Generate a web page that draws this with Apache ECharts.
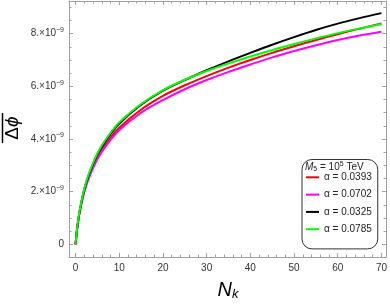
<!DOCTYPE html>
<html>
<head>
<meta charset="utf-8">
<script src="https://cdn.jsdelivr.net/npm/echarts@6/dist/echarts.min.js"></script>
<style>
html,body{margin:0;padding:0;background:#fff;}
#c{width:390px;height:305px;}
</style>
</head>
<body>
<div id="c"></div>
<script>
// N_k values (x)
const nk = [0, 0.25, 0.5, 1, 2, 3, 5, 7, 10, 15, 20, 25, 30, 35, 40, 45, 50, 55, 60, 65, 70];
// Δφ values in units of 1e-9
const red     = [0, 0.44, 0.77, 1.30, 2.04, 2.56, 3.32, 3.84, 4.43, 5.12, 5.64, 6.04, 6.39, 6.71, 7.00, 7.27, 7.52, 7.76, 7.98, 8.19, 8.39];
const magenta = [0, 0.43, 0.75, 1.28, 1.99, 2.50, 3.24, 3.75, 4.34, 5.00, 5.48, 5.89, 6.24, 6.55, 6.83, 7.10, 7.34, 7.56, 7.76, 7.93, 8.07];
const black   = [0, 0.44, 0.78, 1.32, 2.08, 2.62, 3.41, 3.96, 4.58, 5.30, 5.84, 6.24, 6.61, 6.95, 7.27, 7.58, 7.87, 8.14, 8.38, 8.59, 8.78];
const green   = [0, 0.45, 0.80, 1.35, 2.12, 2.67, 3.46, 4.01, 4.63, 5.33, 5.86, 6.25, 6.58, 6.87, 7.13, 7.38, 7.61, 7.82, 8.02, 8.20, 8.36];
const seriesNames = ['α = 0.0393', 'α = 0.0702', 'α = 0.0325', 'α = 0.0785'];
const seriesColors = ['#ff0000', '#ff00ff', '#000000', '#00ff00'];
const xMajor = [0, 10, 20, 30, 40, 50, 60, 70];
const xMinor = [2,4,6,8,12,14,16,18,22,24,26,28,32,34,36,38,42,44,46,48,52,54,56,58,62,64,66,68];
const yMajor = [0, 2, 4, 6, 8];
const yMinor = [0.5,1,1.5,2.5,3,3.5,4.5,5,5.5,6.5,7,7.5,8.5,9];

const X_MIN = -1.5, X_MAX = 71.05, Y_MIN = -0.48, Y_MAX = 9.24;
const frameColor = '#a0a0a0';
const labelColor = '#333';

function pairs(ys){ return nk.map((x,i)=>[x, ys[i]]); }

function xAx(pos, major, showLine, showLabel){
  return {
    type:'value', position: pos, min: X_MIN, max: X_MAX,
    axisLine:{show: showLine, onZero:false, lineStyle:{color:frameColor, width:1}},
    axisTick:{show:true, inside:true, length: major?4:2.5, customValues: major?xMajor:xMinor, lineStyle:{color:frameColor}},
    axisLabel:{show: showLabel, customValues: xMajor, color: labelColor, fontSize: 10, fontFamily:'Liberation Sans, Arial', margin: 6},
    splitLine:{show:false}
  };
}
function yAx(pos, major, showLine, showLabel){
  return {
    type:'value', position: pos, min: Y_MIN, max: Y_MAX,
    axisLine:{show: showLine, onZero:false, lineStyle:{color:frameColor, width:1}},
    axisTick:{show:true, inside:true, length: major?4:2.5, customValues: major?yMajor:yMinor, lineStyle:{color:frameColor}},
    axisLabel:{show: showLabel, customValues: yMajor, color: labelColor, fontSize: 10, fontFamily:'Liberation Sans, Arial', margin: 5,
      formatter: v => v === 0 ? '0' : '{n|' + v + '.×10}{e|−9}',
      rich:{ n:{fontSize:10, color:labelColor, fontFamily:'Liberation Sans, Arial'}, e:{fontSize:7, color:labelColor, padding:[0,0,7,0], fontFamily:'Liberation Sans, Arial'} }
    },
    splitLine:{show:false}
  };
}

const chart = echarts.init(document.getElementById('c'), null, {renderer:'canvas'});
const dataSets = [red, magenta, black, green];
chart.setOption({
  animation:false,
  backgroundColor:'#fff',
  grid:{left:69, top:1, width:319, height:256, containLabel:false},
  xAxis:[ xAx('bottom', true, true, true), xAx('bottom', false, false, false), xAx('top', true, true, false), xAx('top', false, false, false) ],
  yAxis:[ yAx('left', true, true, true), yAx('left', false, false, false), yAx('right', true, true, false), yAx('right', false, false, false) ],
  legend:{
    orient:'vertical', left:302, top:159.5, padding:[11.8,6,13.7,4], itemGap:5.3,
    itemWidth:13, itemHeight:2, icon:'rect',
    borderColor:'#333', borderWidth:1, borderRadius:10, backgroundColor:'#fff',
    textStyle:{fontSize:10, lineHeight:12, color:'#222', fontFamily:'Liberation Sans, Arial'},
    data: seriesNames
  },
  series: dataSets.map((d,i)=>({
    name: seriesNames[i], type:'line', data: pairs(d), xAxisIndex:0, yAxisIndex:0,
    showSymbol:false, smooth:0.3,
    lineStyle:{color: seriesColors[i], width:2}, itemStyle:{color: seriesColors[i]}
  })),
  graphic:[
    { type:'text', x:305, y:167, z:100,
      style:{ text:'{m|M}{s|5}{t| = 10}{p|5}{t| TeV}', verticalAlign:'middle', rich:{
        m:{fontSize:10, fontStyle:'italic', fill:'#222', fontFamily:'Liberation Sans, Arial'},
        s:{fontSize:7, fill:'#222', padding:[4,0,0,0], fontFamily:'Liberation Sans, Arial'},
        t:{fontSize:10, fill:'#222', fontFamily:'Liberation Sans, Arial'},
        p:{fontSize:7, fill:'#222', padding:[0,0,6,0], fontFamily:'Liberation Sans, Arial'} } } },
    { type:'text', x:228, y:290, z:100,
      style:{ text:'{n|N}{k|k}', align:'center', verticalAlign:'middle', rich:{
        n:{fontSize:20, fontStyle:'italic', fill:'#000', fontFamily:'Liberation Sans, Arial'},
        k:{fontSize:13, fontStyle:'italic', fill:'#000', padding:[9,0,0,0], fontFamily:'Liberation Sans, Arial'} } } },
    { type:'text', x:13, y:128, rotation:Math.PI/2, z:100,
      style:{ text:'{d|Δ}{p|ϕ}', align:'center', verticalAlign:'middle', rich:{
        d:{fontSize:19, fill:'#000', fontFamily:'Liberation Sans, Arial'},
        p:{fontSize:19, fontStyle:'italic', fill:'#000', fontFamily:'Liberation Sans, Arial'} } } },
    { type:'line', shape:{x1:2.5, y1:113, x2:2.5, y2:143}, style:{stroke:'#000', lineWidth:1.5}, z:100 }
  ]
});
</script>
</body>
</html>
